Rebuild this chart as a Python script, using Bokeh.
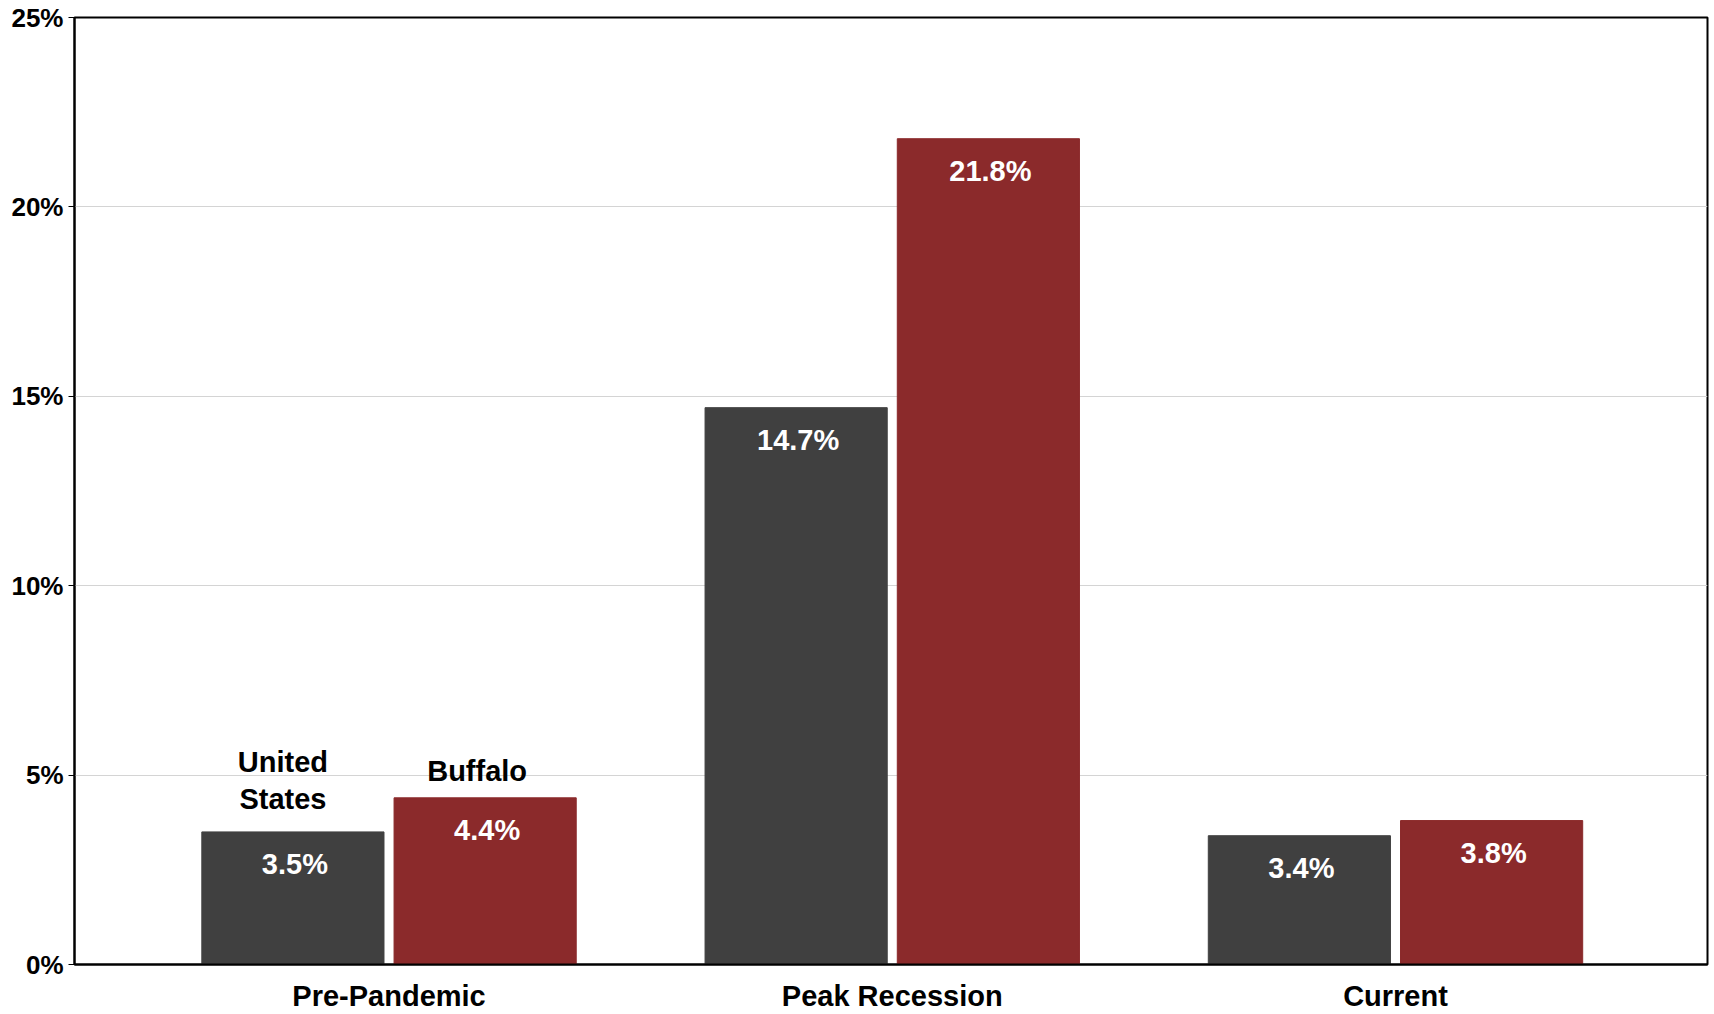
from bokeh.plotting import figure
from bokeh.models import ColumnDataSource, Range1d, FixedTicker, PrintfTickFormatter
from bokeh.core.properties import value
from bokeh.embed import file_html
from bokeh.resources import INLINE

# ---- data ----
categories = ["Pre-Pandemic", "Peak Recession", "Current"]
us_values = [3.5, 14.7, 3.4]
buffalo_values = [4.4, 21.8, 3.8]
series_names = ["United\nStates", "Buffalo"]
y_ticks = [0, 5, 10, 15, 20, 25]

FONT = "Liberation Sans"
DARK = "#404040"
RED = "#8B2A2B"
OFF = 0.191
BW = 0.362

idx = list(range(len(categories)))
us_src = ColumnDataSource(dict(
    x=[i - OFF for i in idx], top=us_values,
    label=[f"{v:.1f}%" for v in us_values]))
bf_src = ColumnDataSource(dict(
    x=[i + OFF for i in idx], top=buffalo_values,
    label=[f"{v:.1f}%" for v in buffalo_values]))

p = figure(width=1714, height=1014, output_backend="svg", toolbar_location=None,
           x_range=Range1d(-0.625, 2.62), y_range=Range1d(0, 25),
           min_border_left=74, min_border_right=7, min_border_top=17,
           min_border_bottom=50)
p.background_fill_color = "white"
p.border_fill_color = "white"
p.outline_line_color = "black"
p.outline_line_width = 2

p.vbar(x="x", top="top", bottom=0, width=BW, color=DARK, source=us_src)
p.vbar(x="x", top="top", bottom=0, width=BW, color=RED, source=bf_src)

# value labels inside bars
for src in (us_src, bf_src):
    p.text(x="x", y="top", text="label", source=src, text_color="white",
           text_font=value(FONT), text_font_style="bold", text_font_size="29px",
           text_align="center", text_baseline="middle", y_offset=32, x_offset=2)

# series name labels above first group
p.text(x=[us_src.data["x"][0]], y=[us_values[0]], text=[series_names[0]],
       text_color="black", text_font=value(FONT), text_font_style="bold",
       text_font_size="29px", text_align="center", text_baseline="bottom",
       x_offset=-10, y_offset=-17, text_line_height=1.15)
p.text(x=[bf_src.data["x"][0]], y=[buffalo_values[0]], text=[series_names[1]],
       text_color="black", text_font=value(FONT), text_font_style="bold",
       text_font_size="29px", text_align="center", text_baseline="bottom",
       x_offset=-8, y_offset=-11)

# axes
p.xaxis.ticker = FixedTicker(ticks=idx)
p.xaxis.major_label_overrides = {i: c for i, c in zip(idx, categories)}
p.xaxis.major_tick_line_color = None
p.xaxis.minor_tick_line_color = None
p.xaxis.axis_line_color = "black"
p.xaxis.axis_line_width = 2
p.xaxis.major_label_text_font = FONT
p.xaxis.major_label_text_font_style = "bold"
p.xaxis.major_label_text_font_size = "29px"
p.xaxis.major_label_text_color = "black"
p.xaxis.major_label_standoff = 9

p.yaxis.ticker = FixedTicker(ticks=y_ticks)
p.yaxis.formatter = PrintfTickFormatter(format="%d%%")
p.yaxis.major_tick_in = 0
p.yaxis.major_tick_out = 6
p.yaxis.major_tick_line_color = "black"
p.yaxis.major_tick_line_width = 1
p.yaxis.minor_tick_line_color = None
p.yaxis.axis_line_color = "black"
p.yaxis.axis_line_width = 2
p.yaxis.major_label_text_font = FONT
p.yaxis.major_label_text_font_style = "bold"
p.yaxis.major_label_text_font_size = "26px"
p.yaxis.major_label_text_color = "black"
p.yaxis.major_label_standoff = 5

p.xgrid.grid_line_color = None
p.ygrid.ticker = FixedTicker(ticks=y_ticks)
p.ygrid.grid_line_color = "#d4d4d4"
p.ygrid.grid_line_width = 1

open("out.html", "w").write(file_html(p, INLINE))
